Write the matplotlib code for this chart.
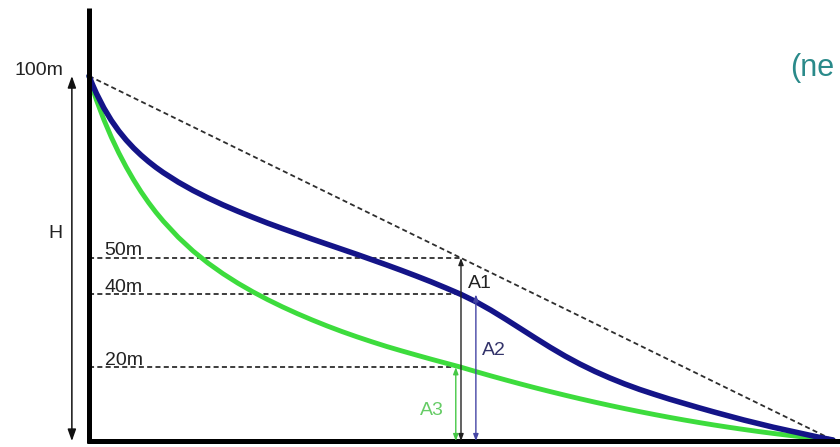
import matplotlib
matplotlib.use("Agg")
import matplotlib.pyplot as plt

plt.rcParams['font.family'] = ['Liberation Sans', 'DejaVu Sans']

# Horizontal distance along the run (% of total length)
distance = [0, 0.5, 1, 2, 3, 4, 5, 6, 7, 8, 9, 10,
            12, 14, 16, 18, 20, 22, 24, 26, 28, 30, 32, 34, 36, 38, 40, 42, 44, 46, 48, 50,
            52, 54, 56, 58, 60, 62, 64, 66, 68, 70, 72, 74, 76, 78, 80, 82, 84, 86, 88, 90,
            92, 94, 96, 98, 100]

# Head along the blue profile (m)
blue_h = [100, 97.5, 95.2, 91.2, 87.8, 84.9, 82.4, 80.2, 78.25, 76.5, 74.9, 73.45,
          70.85, 68.55, 66.5, 64.6, 62.85, 61.2, 59.6, 58.1, 56.65, 55.2, 53.8, 52.4, 51.0,
          49.55, 48.1, 46.6, 45.05, 43.45, 41.75, 40,
          38.0, 35.7, 33.2, 30.6, 28.0, 25.45, 23.05, 20.85, 18.85, 17.05, 15.4, 13.9,
          12.55, 11.25, 10.05, 8.85, 7.7, 6.6, 5.5, 4.5, 3.5, 2.6, 1.7, 0.8, 0]

# Head along the green profile (m)
green_h = [100, 96.5, 93.4, 88.0, 83.2, 78.9, 75.0, 71.45, 68.2, 65.25, 62.55, 60.1,
           55.7, 51.9, 48.6, 45.7, 43.1, 40.74, 38.58, 36.58, 34.72, 32.98, 31.34, 29.8,
           28.36, 27.0, 25.7, 24.5, 23.34, 22.2, 21.1, 20,
           18.8, 17.63, 16.5, 15.4, 14.33, 13.3, 12.3, 11.33, 10.4, 9.5, 8.63, 7.8, 7.0,
           6.23, 5.5, 4.8, 4.13, 3.5, 2.9, 2.33, 1.8, 1.3, 0.83, 0.4, 0]

# Reference levels and the section where they are read
level_names = ['50m', '40m', '20m']
level_values = [50, 40, 20]
section_x = 50
total_height = 100

fig = plt.figure(figsize=(8.4, 4.47), dpi=100)
ax = fig.add_axes([0, 0, 1, 1])
ax.set_xlim(-11.96, 100.94)
ax.set_ylim(-1.92, 120.88)
ax.axis('off')

# frame: thick vertical and horizontal axes
ax.plot([0, 0], [-0.8, 118.7], color='black', lw=3.6, solid_capstyle='butt', zorder=5)
ax.plot([-0.3, 101], [-0.3, -0.3], color='black', lw=3.6, solid_capstyle='butt', zorder=5)

dash = dict(color='#2e2e2e', lw=1.3, linestyle=(0, (2.8, 1.8)))

# straight line from the top to the far end
ax.plot([0, 100], [total_height, 0], **dash, zorder=2)

# horizontal reference levels
ends = [section_x, section_x, 49.3]
for name, v, xe in zip(level_names, level_values, ends):
    ax.plot([0, xe], [v, v], **dash, zorder=2)
    ax.text(2.1, v + 0.7, name, fontsize=14, color='#222222', ha='left', va='baseline')

# profiles
ax.plot(distance, green_h, color='#3ddc3d', lw=3.5, solid_capstyle='round',
        solid_joinstyle='round', zorder=3)
ax.plot(distance, blue_h, color='#141488', lw=4.0, solid_capstyle='round',
        solid_joinstyle='round', zorder=4)

def vspan(x, y0, y1, color, lw, hl, hw):
    ax.annotate('', xy=(x, y1), xytext=(x, y0),
                arrowprops=dict(arrowstyle=f'<|-|>,head_length={hl},head_width={hw}',
                                color=color, lw=lw, shrinkA=0, shrinkB=0), zorder=6)

# total head H
vspan(-2.3, -0.3, total_height, '#111111', 1.1, 0.7, 0.25)
ax.text(-4.5, 56.6, 'H', fontsize=14, color='#222222', ha='center', va='center')
ax.text(-3.5, 100.3, '100m', fontsize=14, color='#222222', ha='right', va='baseline')

# A1, A2, A3 at the section
vspan(section_x, -0.3, 50, '#222222', 1.0, 0.4, 0.15)
vspan(52.0, -0.3, 40, '#4545a5', 1.0, 0.4, 0.15)
vspan(49.3, -0.3, 20, '#45c845', 1.0, 0.4, 0.15)
ax.text(50.9, 41.8, 'A1', fontsize=14, color='#222222', ha='left', va='baseline')
ax.text(52.8, 23.4, 'A2', fontsize=14, color='#33336a', ha='left', va='baseline')
ax.text(44.5, 6.9, 'A3', fontsize=14, color='#66cc66', ha='left', va='baseline')

ax.text(94.3, 100.0, '(ne', fontsize=22, color='#2a8a8a', ha='left', va='baseline')

fig.savefig('out.png', dpi=100, facecolor='white')
